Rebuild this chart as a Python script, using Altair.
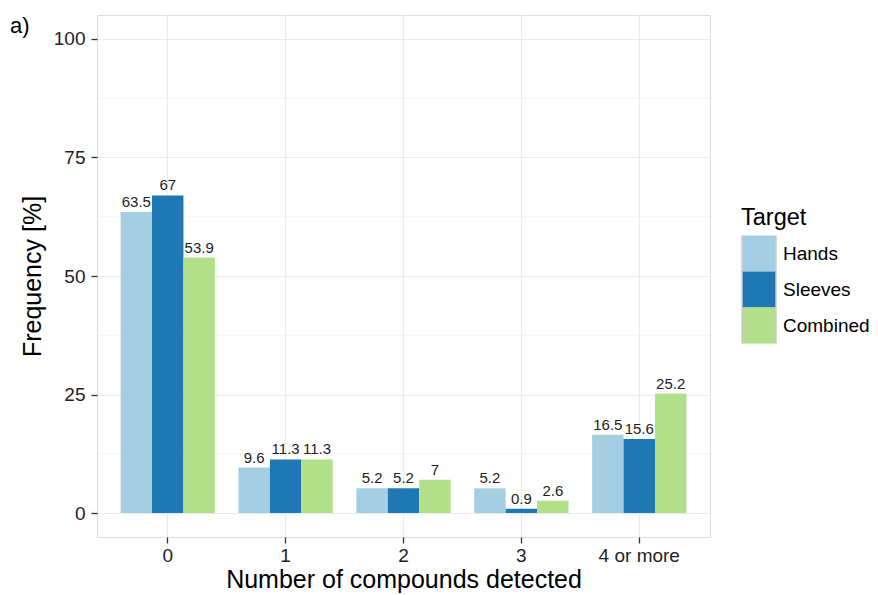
import altair as alt
import pandas as pd

categories = ["0", "1", "2", "3", "4 or more"]
targets = ["Hands", "Sleeves", "Combined"]
hands = [63.5, 9.6, 5.2, 5.2, 16.5]
sleeves = [67, 11.3, 5.2, 0.9, 15.6]
combined = [53.9, 11.3, 7, 2.6, 25.2]
colors = ["#a6cee3", "#1f78b4", "#b2df8a"]
major_ticks = [0, 25, 50, 75, 100]
minor_ticks = [12.5, 37.5, 62.5, 87.5]

rows = []
for t, vals in zip(targets, [hands, sleeves, combined]):
    for c, v in zip(categories, vals):
        rows.append({"cat": c, "Target": t, "val": v})
df = pd.DataFrame(rows)

FONT = "Liberation Sans"

yscale = alt.Scale(domain=[-5.06, 105.06], nice=False, zero=False)
xscale = alt.Scale(paddingInner=0.2, paddingOuter=0.2)

minor = alt.Chart(pd.DataFrame({"v": minor_ticks})).mark_rule(
    color="#ebebeb", strokeWidth=0.6
).encode(y=alt.Y("v:Q", scale=yscale))

bars = alt.Chart(df).mark_bar(strokeWidth=0).encode(
    x=alt.X("cat:N", sort=categories, scale=xscale,
            title="Number of compounds detected",
            axis=alt.Axis(labelAngle=0, bandPosition=0.5, grid=True,
                          gridColor="#ebebeb", gridWidth=1.1, domain=False,
                          tickColor="#333333", tickSize=6, tickWidth=1.3,
                          labelFont=FONT, labelFontSize=19, labelColor="#222222",
                          labelPadding=3, titleFont=FONT, titleFontSize=25,
                          titleFontWeight="normal", titleColor="#000000",
                          titlePadding=2)),
    xOffset=alt.XOffset("Target:N", sort=targets),
    y=alt.Y("val:Q", scale=yscale, title="Frequency [%]",
            axis=alt.Axis(values=major_ticks, grid=True, gridColor="#ebebeb",
                          gridWidth=1.1, domain=False, tickColor="#333333",
                          tickSize=6, tickWidth=1.3, labelFont=FONT,
                          labelFontSize=19, labelColor="#222222", labelPadding=6,
                          titleFont=FONT, titleFontSize=25,
                          titleFontWeight="normal", titleColor="#000000",
                          titlePadding=8)),
    color=alt.Color("Target:N", sort=targets,
                    scale=alt.Scale(domain=targets, range=colors),
                    legend=alt.Legend(title="Target", orient="none",
                                      legendX=644, legendY=191,
                                      symbolType="M-1,-1.5H1V1.5H-1Z",
                                      symbolSize=1156, clipHeight=36,
                                      symbolStrokeColor="#cccccc",
                                      symbolStrokeWidth=1.5,
                                      symbolOpacity=1, rowPadding=0,
                                      labelFont=FONT, labelFontSize=19,
                                      labelColor="#000000", labelOffset=6,
                                      titleFont=FONT, titleFontSize=23.5,
                                      titleFontWeight="normal",
                                      titleColor="#000000", titlePadding=6)),
)

labels = alt.Chart(df).mark_text(
    baseline="bottom", dy=-2, fontSize=15, font=FONT, color="#222222"
).encode(
    x=alt.X("cat:N", sort=categories, scale=xscale),
    xOffset=alt.XOffset("Target:N", sort=targets),
    y=alt.Y("val:Q", scale=yscale),
    text=alt.Text("val:Q"),
)

tag = alt.Chart(pd.DataFrame({"t": ["a)"]})).mark_text(
    align="left", baseline="alphabetic", fontSize=22, font=FONT, color="#000000"
).encode(x=alt.value(-87), y=alt.value(18), text="t:N")

chart = alt.layer(minor, bars, labels, tag).properties(
    width=613, height=522,
    padding={"left": 2, "top": 7, "right": 0, "bottom": 5},
).configure_view(stroke="#888888", strokeWidth=1.2).configure(background="white")

chart.save("out.html", embed_options={"renderer": "svg", "actions": False})
